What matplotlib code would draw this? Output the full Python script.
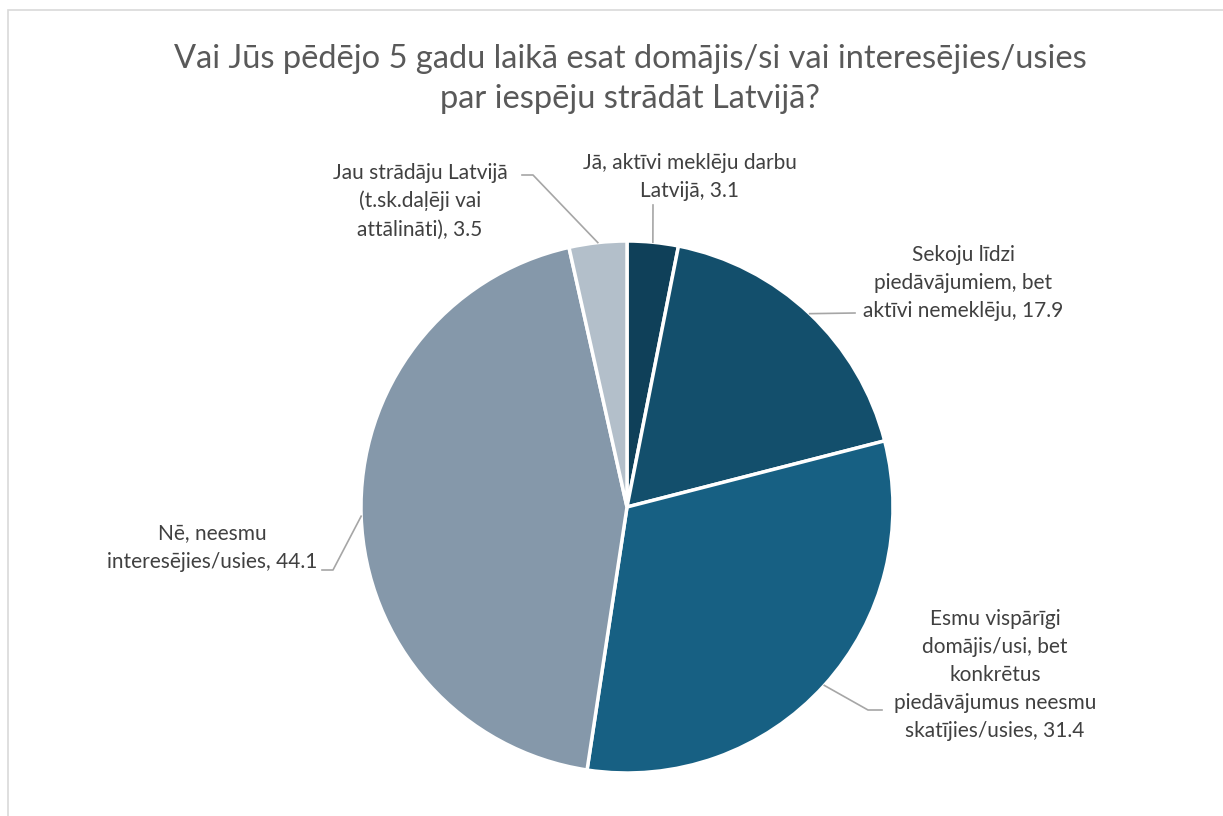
import matplotlib.pyplot as plt
import numpy as np
from matplotlib.patches import Rectangle

title = "Vai Jūs pēdējo 5 gadu laikā esat domājis/si vai interesējies/usies\npar iespēju strādāt Latvijā?"
labels = [
    "Jā, aktīvi meklēju darbu\nLatvijā",
    "Sekoju līdzi\npiedāvājumiem, bet\naktīvi nemeklēju",
    "Esmu vispārīgi\ndomājis/usi, bet\nkonkrētus\npiedāvājumus neesmu\nskatījies/usies",
    "Nē, neesmu\ninteresējies/usies",
    "Jau strādāju Latvijā\n(t.sk.daļēji vai\nattālināti)",
]
values = [3.1, 17.9, 31.4, 44.1, 3.5]
colors = ["#0f4059", "#134f6c", "#176083", "#8598aa", "#b3bfca"]

# label text anchor (pixel coords, y down) and leader elbow points
label_pos = [(690, 177), (963, 283), (995, 675), (212, 548), (420, 201)]
leader_end = [(653, 205), (855, 313), (882, 710), (322, 570), (522, 175)]
leader_elbow = [(653, 205), (855, 313), (868, 710), (333, 570), (533, 175)]

W, H = 1223, 816
fig = plt.figure(figsize=(W / 100, H / 100), dpi=100)
ax = fig.add_axes([0, 0, 1, 1])

cx, cy, r = 627, H - 507, 266
wedges, _ = ax.pie(values, colors=colors, startangle=90, counterclock=False,
                   center=(cx, cy), radius=r, frame=True,
                   wedgeprops=dict(edgecolor="white", linewidth=2.5))
ax.set_xlim(0, W)
ax.set_ylim(0, H)
ax.axis('off')

# chart border
ax.add_patch(Rectangle((8, -10), W, H, fill=False,
                       edgecolor="#d9d9d9", linewidth=1.2))

font = 'Lato'
for w, lab, val, pos, e, el in zip(wedges, labels, values, label_pos, leader_end, leader_elbow):
    ang = np.deg2rad((w.theta1 + w.theta2) / 2)
    px, py = cx + r * np.cos(ang), cy + r * np.sin(ang)
    xs = [px, el[0], e[0]]
    ys = [py, H - el[1], H - e[1]]
    ax.plot(xs, ys, color="#a6a6a6", linewidth=1.2)
    ax.text(pos[0], H - pos[1], f"{lab}, {val}", ha='center', va='center',
            fontsize=15, color="#404040", family=font, linespacing=1.5)

ax.text(630, H - 79, title, ha='center', va='center', fontsize=23.5,
        color="#595959", family=font, linespacing=1.4)

fig.savefig("out.png", dpi=100)
